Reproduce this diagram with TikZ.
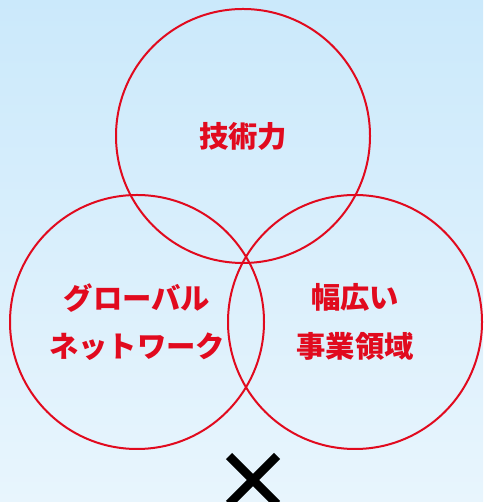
\documentclass[tikz,border=0pt]{standalone}
\usepackage{fontspec}
\newfontfamily\cjk{Noto Sans CJK JP}
\usepackage{tikz}
\usepackage{xcolor}
\definecolor{ringred}{RGB}{225, 10, 30}
\definecolor{skytop}{RGB}{203, 233, 251}
\definecolor{skybottom}{RGB}{232, 245, 253}

\begin{document}
\begin{tikzpicture}[x=0.75pt, y=0.75pt,
    ring/.style={circle, draw=ringred, line width=1.5pt, minimum size=190.5pt,
      inner sep=0pt, text=ringred, align=center,
      font=\cjk\bfseries\fontsize{22}{36.5}\selectfont}]
    \shade[top color=skytop, bottom color=skybottom] (0, 0) rectangle (483, 502);
    \useasboundingbox (0, 0) rectangle (483, 502);
    \node[ring] (tech) at (243, 366) {技術力};
    \node[ring] (global) at (137, 180) {グローバル\\ネットワーク};
    \node[ring] (field) at (355, 180) {幅広い\\事業領域};
    \coordinate (cross) at (253, 22);
    \begin{scope}
      \clip (0, 0) rectangle (483, 502);
      \draw[line width=6.5pt] ([shift={(-24, 24)}]cross) -- ([shift={(24, -24)}]cross);
      \draw[line width=6.5pt] ([shift={(24, 24)}]cross) -- ([shift={(-24, -24)}]cross);
    \end{scope}
  \end{tikzpicture}
\end{document}
